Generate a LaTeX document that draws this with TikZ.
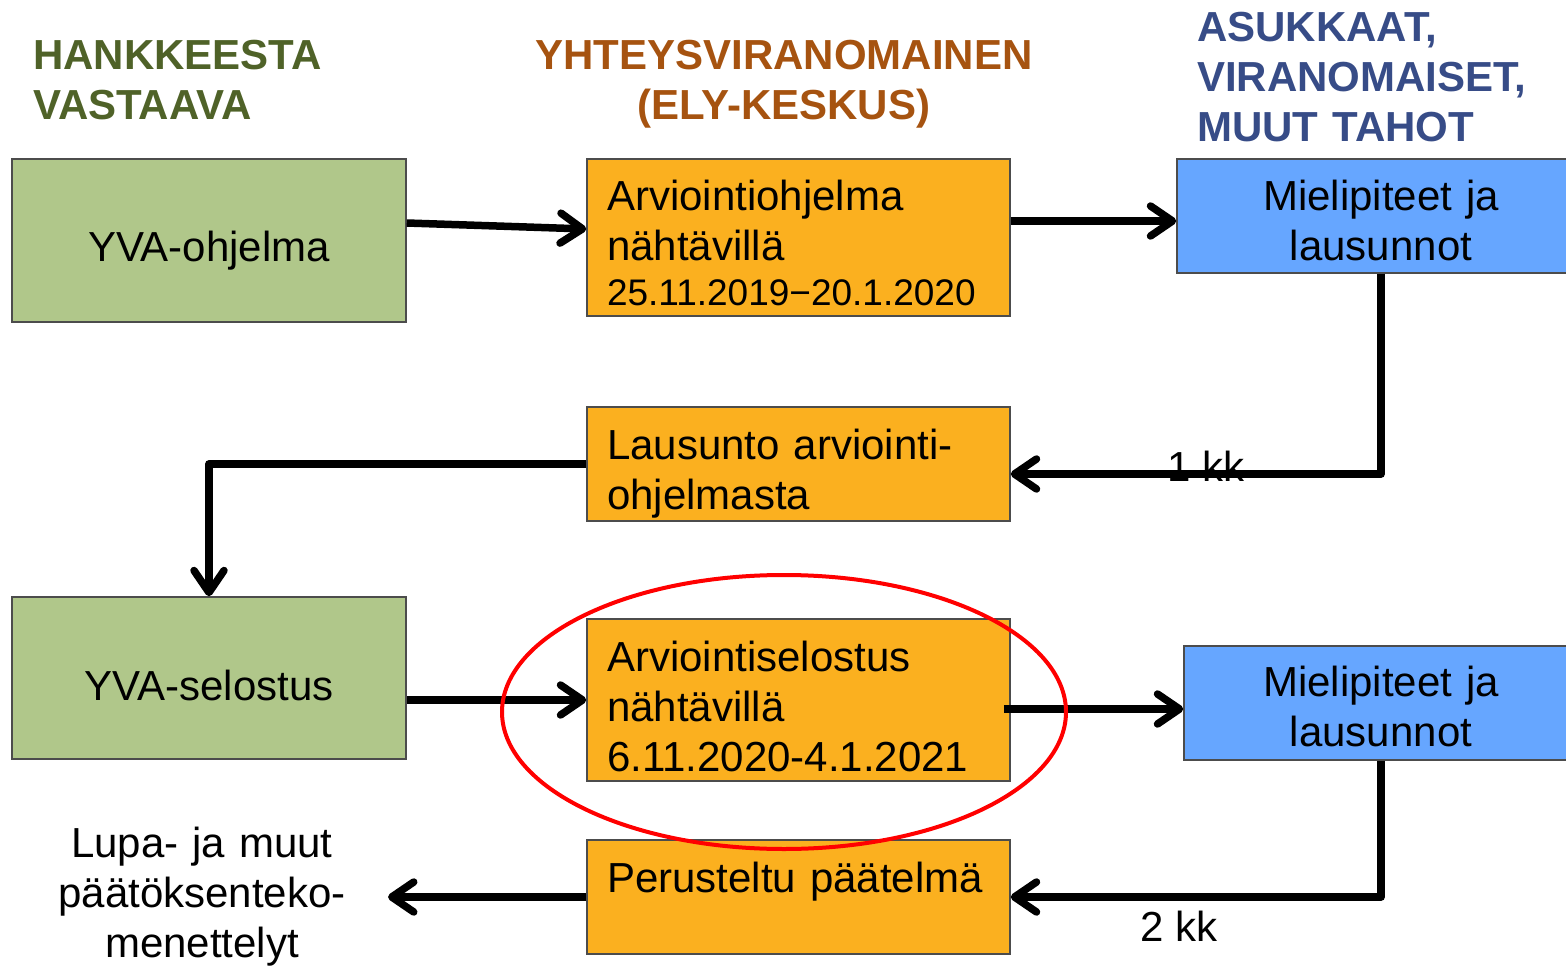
\documentclass[tikz,border=0pt]{standalone}
\usepackage{fontspec}
\setmainfont{Liberation Sans}
\usepackage{xcolor}
\usepackage{tikz}
\usetikzlibrary{arrows.meta}
\usetikzlibrary{calc,positioning}
\definecolor{yvagreen}{RGB}{176,199,138}
\definecolor{elyorange}{RGB}{251,176,31}
\definecolor{asublue}{RGB}{102,166,255}
\definecolor{hgreen}{RGB}{79,98,40}
\definecolor{horange}{RGB}{166,83,16}
\definecolor{hblue}{RGB}{55,76,135}
\tikzset{
  box/.style={draw=black!70, line width=1.5pt, inner sep=0pt, font=\fontsize{42}{50}\selectfont},
  gbox/.style={box, fill=yvagreen, text width=394pt, align=center, text height=103pt, text depth=#1},
  ebox/.style={box, fill=elyorange, text width=383pt, inner xsep=20pt, align=left, text height=52pt, text depth=#1},
  abox/.style={box, fill=asublue, text width=#1, align=center, text height=52pt, text depth=62pt},
  head/.style={inner sep=0pt, align=left, font=\bfseries\fontsize{42}{50}\selectfont},
  plain/.style={inner sep=0pt, font=\fontsize{42}{50}\selectfont},
  conn/.style={line width=7.5pt, line join=round, -{Straight Barb[length=22pt,width=30pt,round]}},
  hilite/.style={draw=red, line width=4pt}
}
\begin{document}
\begin{tikzpicture}[x=1pt,y=-1pt]
\useasboundingbox (0,0) rectangle (1566,968);
% otsikot
\node[head, text=hgreen, text width=300pt, anchor=base west] (hhank) at (33,70) {HANKKEESTA\\VASTAAVA};
\node[head, text=horange, text width=540pt, align=center, anchor=base] (hyht) at (784,70) {YHTEYSVIRANOMAINEN\\(ELY-KESKUS)};
\node[head, text=hblue, text width=360pt, anchor=base west] (hasuk) at (1197,42) {ASUKKAAT,\\VIRANOMAISET,\\MUUT TAHOT};
% laatikot
\node[gbox=60pt] (yvaohj) at (209,240.5) {YVA-ohjelma};
\node[ebox=105pt] (arvohj) at (798.5,237.5) {Arviointiohjelma\\nähtävillä\\[-5pt]{\fontsize{37}{44}\selectfont 25.11.2019−20.1.2020}};
\node[abox=408pt] (miel1) at (1381,216) {Mielipiteet ja\\lausunnot};
\node[ebox=62pt] (lausohj) at (798.5,464) {Lausunto arviointi-\\ohjelmasta};
\node[gbox=59pt] (yvasel) at (209,678) {YVA-selostus};
\node[ebox=110pt] (arvsel) at (798.5,700) {Arviointiselostus\\nähtävillä\\6.11.2020-4.1.2021};
\node[abox=394pt, text height=50pt, text depth=64pt] (miel2) at (1381,703) {Mielipiteet ja\\lausunnot};
\node[ebox=62pt] (perus) at (798.5,897) {Perusteltu~päätelmä};
\node[plain, text width=320pt, align=center, anchor=base] (lupa) at (202,857) {Lupa- ja muut\\päätöksenteko-\\menettelyt};
\node[plain, anchor=base west] (kk1) at (1167,481) {1 kk};
\node[plain, anchor=base west] (kk2) at (1140,941) {2 kk};
\coordinate (lupaend) at (388,897);
% nuolet
\draw[conn] ([yshift=17.5pt]yvaohj.east) -- ([yshift=8.5pt]arvohj.west);
\draw[conn] ([yshift=16.5pt]arvohj.east) -- ([yshift=-5pt]miel1.west);
\draw[conn] (miel1.south) |- ([yshift=-10pt]lausohj.east);
\draw[conn] (lausohj.west) -| (yvasel.north);
\draw[conn] (yvasel.east |- arvsel.west) -- (arvsel.west);
\draw[conn] ([xshift=-7pt,yshift=-9pt]arvsel.east) -- ([yshift=-6pt]miel2.west);
\draw[conn] (miel2.south) |- (perus.east);
\draw[conn] (perus.west) -- (lupaend);
% korostus
\draw[hilite] (784,712) ellipse [x radius=282pt, y radius=137pt];
\end{tikzpicture}
\end{document}
